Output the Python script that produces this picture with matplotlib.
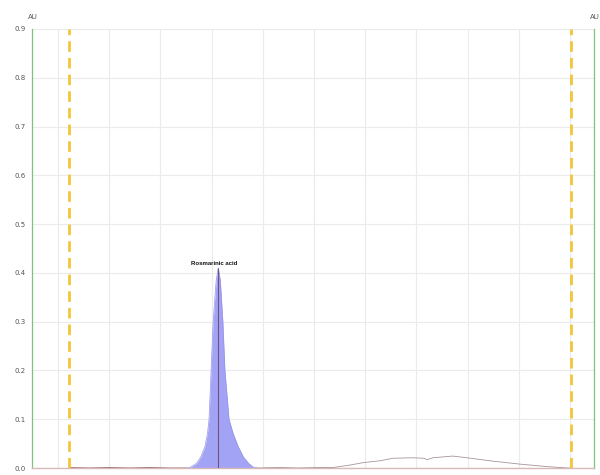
import matplotlib
matplotlib.use('Agg')
import matplotlib.pyplot as plt

# chromatogram trace (time, absorbance in AU)
baseline_t = [1.22, 1.6, 2.0, 2.4, 2.8, 3.2, 3.5]
baseline_au = [0.001, 0.000, 0.001, 0.000, 0.001, 0.000, 0.000]

peak_t = [3.50, 3.58, 3.71, 3.79, 3.87, 3.92, 3.95, 3.99, 4.03, 4.09, 4.13,
          4.17, 4.22, 4.26, 4.34, 4.42, 4.52, 4.62, 4.72, 4.81, 4.90]
peak_au = [0.000, 0.001, 0.010, 0.023, 0.044, 0.071, 0.100, 0.200, 0.300, 0.385, 0.410,
           0.385, 0.300, 0.200, 0.100, 0.071, 0.044, 0.023, 0.010, 0.002, 0.000]

tail_t = [4.90, 5.3, 5.7, 6.1, 6.37, 6.7, 6.96, 7.3, 7.54, 7.93, 8.15, 8.21,
          8.32, 8.71, 8.99, 9.50, 10.02, 10.55, 10.94, 11.0]
tail_au = [0.000, 0.001, 0.000, 0.001, 0.001, 0.006, 0.011, 0.015, 0.020, 0.021, 0.020, 0.017,
           0.021, 0.0245, 0.021, 0.014, 0.008, 0.003, 0.000, 0.000]

peak_name = 'Rosmarinic acid'
peak_apex_t = 4.13
peak_apex_au = 0.410

window_start, window_end = 1.22, 11.02
y_ticks = [0.0, 0.1, 0.2, 0.3, 0.4, 0.5, 0.6, 0.7, 0.8, 0.9]
x_grid = [1, 2, 3, 4, 5, 6, 7, 8, 9, 10, 11]

fig = plt.figure(figsize=(6, 4.75), dpi=100)
ax = fig.add_axes([0.0533, 0.0147, 0.9367, 0.9243])

ax.set_xlim(0.492, 11.469)
ax.set_ylim(0, 0.9)

ax.set_xticks(x_grid)
ax.set_xticklabels([])
ax.set_yticks(y_ticks)
ax.set_yticklabels([f'{v:.1f}' for v in y_ticks])
ax.tick_params(axis='both', length=0)
ax.tick_params(axis='y', labelsize=5, labelcolor='#555555', pad=4.5)
ax.grid(True, color='#ebebeb', linewidth=0.8)
ax.set_axisbelow(True)

for side in ('left', 'right'):
    ax.spines[side].set_color('#7cc47c')
    ax.spines[side].set_linewidth(0.9)
ax.spines['top'].set_visible(False)
ax.spines['bottom'].set_color('#d8b8b8')
ax.spines['bottom'].set_linewidth(1.0)

# integrated peak area
ax.fill_between(peak_t, peak_au, color='#a3a3f5', linewidth=0, zorder=2)
ax.plot(peak_t, peak_au, color='#9393ec', linewidth=0.5, zorder=3)
ax.vlines(peak_apex_t, 0, peak_apex_au, color='#6f5080', linewidth=0.8, zorder=4)

ax.plot(baseline_t, baseline_au, color='#a07878', linewidth=0.7, zorder=3)
ax.plot(tail_t, tail_au, color='#a89494', linewidth=0.6, zorder=3)

# integration window
for t in (window_start, window_end):
    ax.axvline(t, color='#f2c638', linewidth=2.0, linestyle=(0, (3.8, 2.2)), zorder=5)

ax.text(4.04, peak_apex_au + 0.004, peak_name, ha='center', va='bottom',
        fontsize=4.3, fontweight='bold', color='#111111',
        family=['Liberation Sans Narrow', 'Liberation Sans', 'DejaVu Sans'])

fig.text(32.5 / 600, 1 - 16.7 / 475, 'AU', ha='center', va='center', fontsize=5, color='#555555')
fig.text(595 / 600, 1 - 16.7 / 475, 'AU', ha='center', va='center', fontsize=5, color='#555555')

fig.savefig('out.png', dpi=100, facecolor='white')
